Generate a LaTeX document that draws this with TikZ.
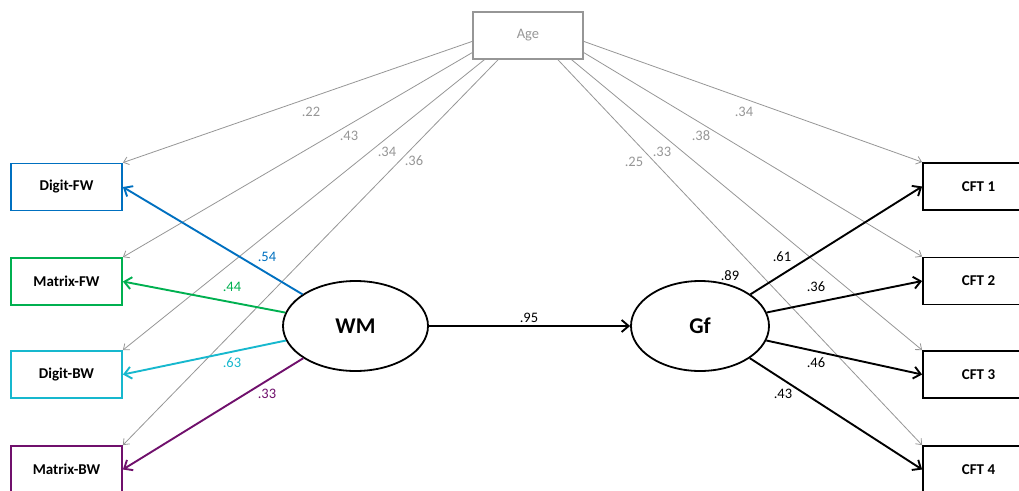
\documentclass[tikz,border=0pt]{standalone}
\usepackage{fontspec}
\setmainfont{Carlito}
\usepackage{tikz}
\usetikzlibrary{arrows.meta,shapes.geometric,positioning,calc}
\definecolor{dfwblue}{RGB}{0,112,192}
\definecolor{mfwgreen}{RGB}{0,176,80}
\definecolor{dbwcyan}{RGB}{23,184,206}
\definecolor{mbwpurple}{RGB}{112,16,108}
\definecolor{agegray}{RGB}{150,150,150}

\begin{document}
\begin{tikzpicture}[x=1pt,y=-1pt,
    box/.style={draw,line width=1.8pt,minimum width=111pt,minimum height=47pt,inner sep=0pt,font=\bfseries\fontsize{15}{18}\selectfont},
    latent/.style={draw,ellipse,line width=1.8pt,minimum height=90pt,inner sep=0pt,font=\bfseries\fontsize{22.5}{26}\selectfont},
    agearrow/.style={agegray,line width=0.8pt,-{Straight Barb[length=5pt,width=8pt]}},
    loading/.style={line width=1.9pt,-{Straight Barb[length=7pt,width=12pt]}},
    coef/.style={inner sep=0pt,font=\fontsize{14.5}{17}\selectfont}]
    \useasboundingbox (0,0) rectangle (1019,490);

    % Age
    \node[draw=agegray,line width=1.3pt,minimum width=110pt,minimum height=47pt,text=agegray,font=\fontsize{14.5}{17}\selectfont] (age) at (528,35.5) {Age};

    % WM indicators
    \node[box,draw=dfwblue] (dfw) at (66.5,187) {Digit-FW};
    \node[box,draw=mfwgreen] (mfw) at (66.5,281.5) {Matrix-FW};
    \node[box,draw=dbwcyan] (dbw) at (66.5,374.5) {Digit-BW};
    \node[box,draw=mbwpurple] (mbw) at (66.5,469.5) {Matrix-BW};

    % Gf indicators
    \node[box] (cft1) at (978.5,186.5) {CFT 1};
    \node[box] (cft2) at (978.5,281) {CFT 2};
    \node[box] (cft3) at (978.5,374.5) {CFT 3};
    \node[box] (cft4) at (978.5,469.5) {CFT 4};

    % latent factors
    \node[latent,minimum width=145pt] (wm) at (355.5,326) {WM};
    \node[latent,minimum width=138pt] (gf) at (700,326) {Gf};

    % Age paths
    \draw[agearrow] (age.186) -- (dfw.north east);
    \draw[agearrow] (age.197) -- (mfw.north east);
    \draw[agearrow] (age.209) -- (dbw.north east);
    \draw[agearrow] (age.219) -- (mbw.north east);
    \draw[agearrow] (age.321) -- (cft4.north west);
    \draw[agearrow] (age.331) -- (cft3.north west);
    \draw[agearrow] (age.343) -- (cft2.north west);
    \draw[agearrow] (age.354) -- (cft1.north west);
    \node[coef,agegray] (a22) at (311,112) {.22};
    \node[coef,agegray] (a43) at (349,136) {.43};
    \node[coef,agegray] (a34) at (387,152) {.34};
    \node[coef,agegray] (a36) at (414,161) {.36};
    \node[coef,agegray] (a25) at (634,162) {.25};
    \node[coef,agegray] (a33) at (662,152) {.33};
    \node[coef,agegray] (a38) at (701,136) {.38};
    \node[coef,agegray] (a34r) at (744,112) {.34};

    % WM loadings
    \draw[loading,dfwblue] (wm) -- (dfw.east);
    \draw[loading,mfwgreen] (wm) -- (mfw.east);
    \draw[loading,dbwcyan] (wm) -- (dbw.east);
    \draw[loading,mbwpurple] (wm) -- (mbw.east);
    \node[coef,dfwblue] (l54) at (267,257) {.54};
    \node[coef,mfwgreen] (l44) at (232,287) {.44};
    \node[coef,dbwcyan] (l63) at (232,363) {.63};
    \node[coef,mbwpurple] (l33) at (267,394) {.33};

    % Gf loadings
    \draw[loading] (gf) -- (cft1.west);
    \draw[loading] (gf) -- (cft2.west);
    \draw[loading] (gf) -- (cft3.west);
    \draw[loading] (gf) -- (cft4.west);
    \node[coef] (l61) at (782,257) {.61};
    \node[coef] (l36) at (816,287) {.36};
    \node[coef] (l46) at (816,363) {.46};
    \node[coef] (l43) at (783,394) {.43};
    \node[coef] (r89) at (730,276) {.89};

    % WM -> Gf
    \draw[loading] (wm) -- (gf);
    \node[coef] (b95) at (529,318) {.95};
\end{tikzpicture}
\end{document}
